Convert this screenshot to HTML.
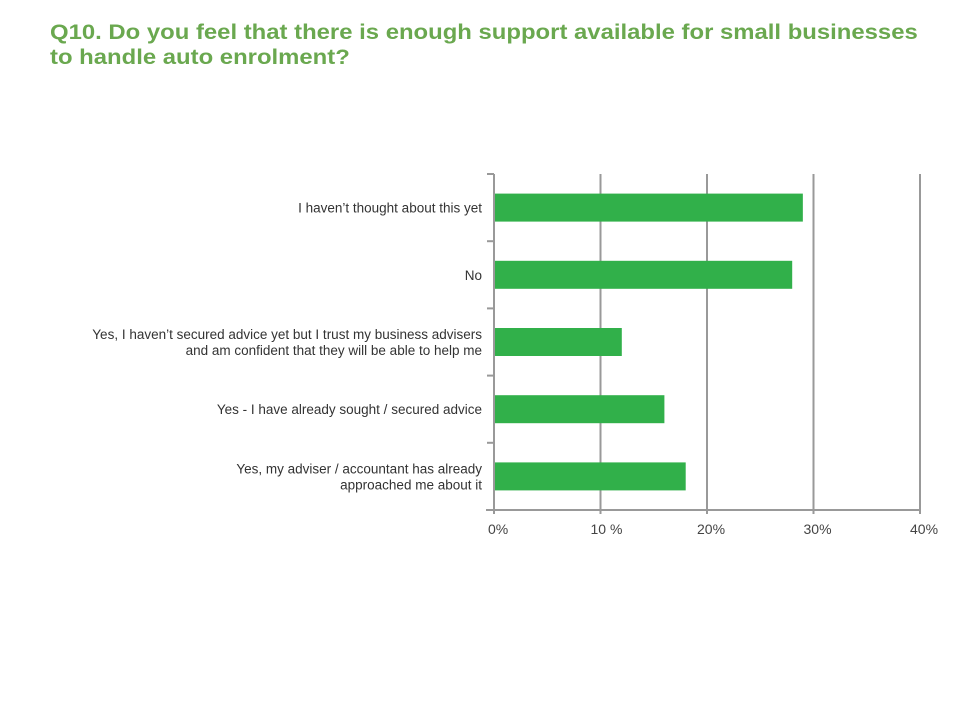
<!DOCTYPE html>
<html><head><meta charset="utf-8"><style>
body{margin:0;width:960px;height:720px;background:#fff;overflow:hidden;font-family:"Liberation Sans",Arial,sans-serif}
#title{position:absolute;left:50px;top:20px;font-size:21px;font-weight:bold;color:#6aa84f;line-height:25px;white-space:nowrap;transform:scaleX(1.137);transform-origin:0 0}
svg{position:absolute;left:0;top:0}
</style></head><body>
<div id="title">Q10. Do you feel that there is enough support available for small businesses<br>to handle auto enrolment?</div>
<svg id="chart" width="960" height="720"></svg>
<script>
const categories=[["I haven’t thought about this yet"],["No"],["Yes, I haven’t secured advice yet but I trust my business advisers","and am confident that they will be able to help me"],["Yes - I have already sought / secured advice"],["Yes, my adviser / accountant has already","approached me about it"]];
const values=[29,28,12,16,18];
const ticks=[0,10,20,30,40];
const tickLabels=["0%","10 %","20%","30%","40%"];
const svg=document.getElementById('chart');
const NS='http://www.w3.org/2000/svg';
const x0=494,x1=920,yTop=174,yBot=510,maxV=40;
const xs=v=>x0+(x1-x0)*v/maxV;
const band=(yBot-yTop)/categories.length;
function mk(t,a){const e=document.createElementNS(NS,t);for(const k in a)e.setAttribute(k,a[k]);svg.appendChild(e);return e;}
ticks.forEach((t,i)=>{
 const g=mk('line',{x1:xs(t),x2:xs(t),y1:yTop,y2:yBot+4,stroke:'#999','stroke-width':2});
 
 
 const l=mk('text',{x:xs(t)+(i==0?-6:-10),y:yBot+24,'font-size':14,fill:'#444'});
 l.textContent=tickLabels[i];
 
 
});
const ax=mk('line',{x1:x0-8,x2:x1,y1:yBot,y2:yBot,stroke:'#999','stroke-width':2});


for(let i=0;i<=categories.length;i++){
 const t=mk('line',{x1:x0-7,x2:x0,y1:yTop+band*i,y2:yTop+band*i,stroke:'#999','stroke-width':2});
 
 
}
categories.forEach((c,i)=>{
 const cy=yTop+band*i+band/2;
 const r=mk('rect',{x:x0,y:cy-14,width:xs(values[i])-x0,height:28,fill:'#31b04a'});
 
 
 c.forEach((line,j)=>{
  const t=mk('text',{x:x0-12,y:cy+5+(j-(c.length-1)/2)*16,'font-size':13.5,fill:'#333','text-anchor':'end'});
  t.textContent=line;
  
  
 });
});
const yax=mk('line',{x1:x0,x2:x0,y1:yTop,y2:yBot+4,stroke:'#999','stroke-width':2});


</script>
</body></html>
